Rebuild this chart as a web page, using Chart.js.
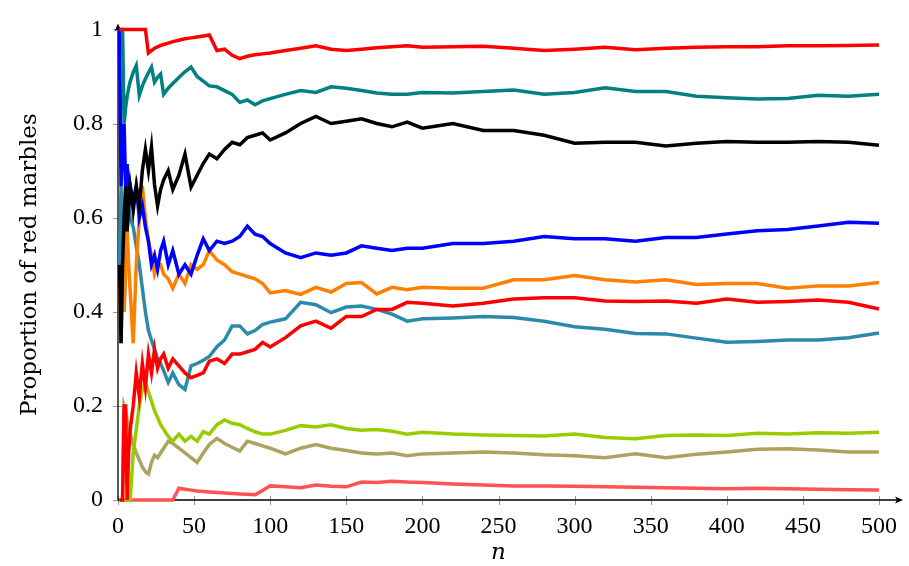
<!DOCTYPE html>
<html>
<head>
<meta charset="utf-8">
<script src="https://cdn.jsdelivr.net/npm/chart.js@4"></script>
<style>
  html, body { margin: 0; padding: 0; background: #fff; }
  #wrap { width: 909px; height: 566px; position: relative; }
</style>
</head>
<body>
<div id="wrap"><canvas id="marbles"></canvas></div>
<script>
// draw number n (x axis)
const steps = [1, 2, 3, 4, 5, 6, 7, 8, 10, 12,
  14, 16, 18, 20, 22, 24, 26, 28, 30, 33,
  36, 40, 44, 48, 52, 56, 60, 65, 70, 75,
  80, 85, 90, 95, 100, 110, 120, 130, 140, 150,
  160, 170, 180, 190, 200, 220, 240, 260, 280, 300,
  320, 340, 360, 380, 400, 420, 440, 460, 480, 500];

// proportion of red marbles, one array per run
const redTop = [1, 1, 1, 1, 1, 1, 1, 1, 1, 1,
  1, 1, 1, 0.95, 0.955, 0.96, 0.963, 0.966, 0.968, 0.971,
  0.974, 0.977, 0.98, 0.982, 0.984, 0.986, 0.988, 0.955, 0.958, 0.945,
  0.938, 0.943, 0.946, 0.948, 0.95, 0.955, 0.96, 0.965, 0.958, 0.955,
  0.958, 0.961, 0.963, 0.965, 0.962, 0.963, 0.964, 0.96, 0.955, 0.958,
  0.962, 0.957, 0.96, 0.962, 0.963, 0.963, 0.965, 0.965, 0.966, 0.967];

const teal = [1, 1, 1, 0.8, 0.833, 0.857, 0.875, 0.889, 0.909, 0.923,
  0.86, 0.88, 0.895, 0.908, 0.92, 0.888, 0.898, 0.905, 0.862, 0.875,
  0.885, 0.898, 0.91, 0.92, 0.9, 0.89, 0.88, 0.878, 0.87, 0.862,
  0.845, 0.85, 0.84, 0.848, 0.853, 0.862, 0.87, 0.866, 0.878, 0.875,
  0.87, 0.865, 0.862, 0.862, 0.866, 0.865, 0.868, 0.871, 0.862, 0.866,
  0.876, 0.868, 0.868, 0.858, 0.855, 0.852, 0.853, 0.86, 0.858, 0.862];

const black = [0.5, 0.333, 0.5, 0.6, 0.667, 0.571, 0.625, 0.667, 0.615, 0.667,
  0.625, 0.7, 0.745, 0.7, 0.75, 0.67, 0.625, 0.66, 0.68, 0.7,
  0.66, 0.69, 0.735, 0.665, 0.69, 0.715, 0.735, 0.725, 0.745, 0.76,
  0.755, 0.77, 0.775, 0.78, 0.765, 0.78, 0.8, 0.815, 0.8, 0.805,
  0.81, 0.8, 0.793, 0.803, 0.79, 0.8, 0.785, 0.785, 0.775, 0.758,
  0.76, 0.76, 0.752, 0.758, 0.762, 0.76, 0.76, 0.762, 0.76, 0.754];

const blue = [1, 0.667, 0.75, 0.8, 0.667, 0.714, 0.625, 0.667, 0.636, 0.667,
  0.6, 0.625, 0.58, 0.55, 0.5, 0.52, 0.49, 0.53, 0.55, 0.5,
  0.53, 0.48, 0.5, 0.48, 0.52, 0.555, 0.53, 0.55, 0.545, 0.55,
  0.56, 0.582, 0.565, 0.56, 0.545, 0.525, 0.515, 0.525, 0.52, 0.525,
  0.54, 0.535, 0.53, 0.535, 0.535, 0.545, 0.545, 0.55, 0.56, 0.555,
  0.555, 0.55, 0.558, 0.558, 0.565, 0.572, 0.575, 0.582, 0.59, 0.588];

const orange = [0.5, 0.333, 0.5, 0.4, 0.5, 0.571, 0.5, 0.444, 0.333, 0.5,
  0.6, 0.667, 0.6, 0.55, 0.52, 0.48, 0.5, 0.5, 0.48, 0.47,
  0.45, 0.48, 0.46, 0.5, 0.49, 0.5, 0.53, 0.51, 0.5, 0.485,
  0.48, 0.475, 0.47, 0.46, 0.44, 0.445, 0.437, 0.452, 0.442, 0.46,
  0.462, 0.438, 0.452, 0.447, 0.452, 0.45, 0.45, 0.468, 0.468, 0.477,
  0.468, 0.463, 0.468, 0.458, 0.46, 0.46, 0.45, 0.455, 0.455, 0.462];

const steel = [0.5, 0.667, 0.5, 0.4, 0.5, 0.571, 0.625, 0.6, 0.58, 0.54,
  0.5, 0.45, 0.4, 0.36, 0.34, 0.32, 0.3, 0.29, 0.275, 0.25,
  0.27, 0.245, 0.235, 0.285, 0.29, 0.297, 0.305, 0.326, 0.34, 0.37,
  0.37, 0.353, 0.36, 0.373, 0.378, 0.385, 0.42, 0.415, 0.398, 0.41,
  0.412, 0.405, 0.395, 0.38, 0.385, 0.387, 0.39, 0.388, 0.38, 0.368,
  0.363, 0.354, 0.353, 0.344, 0.335, 0.337, 0.34, 0.34, 0.345, 0.355];

const redLow = [0, 0, 0, 0.2, 0.2, 0, 0.1, 0.15, 0.2, 0.27,
  0.22, 0.29, 0.24, 0.31, 0.27, 0.32, 0.28, 0.3, 0.31, 0.28,
  0.3, 0.285, 0.27, 0.26, 0.265, 0.27, 0.295, 0.3, 0.29, 0.31,
  0.31, 0.315, 0.32, 0.335, 0.325, 0.345, 0.37, 0.38, 0.365, 0.39,
  0.39, 0.405, 0.405, 0.42, 0.418, 0.412, 0.418, 0.427, 0.43, 0.43,
  0.423, 0.422, 0.423, 0.418, 0.427, 0.42, 0.422, 0.425, 0.42, 0.406];

const green = [0, 0, 0, 0, 0, 0, 0, 0, 0.1, 0.15,
  0.2, 0.235, 0.25, 0.23, 0.21, 0.19, 0.175, 0.16, 0.15, 0.135,
  0.125, 0.14, 0.125, 0.135, 0.125, 0.145, 0.14, 0.16, 0.17, 0.163,
  0.16, 0.152, 0.145, 0.14, 0.14, 0.148, 0.158, 0.155, 0.16, 0.152,
  0.148, 0.15, 0.146, 0.14, 0.144, 0.14, 0.138, 0.137, 0.136, 0.14,
  0.133, 0.13, 0.137, 0.138, 0.137, 0.142, 0.14, 0.143, 0.142, 0.144];

const olive = [0, 0, 0, 0.2, 0.19, 0.17, 0.155, 0.143, 0.118, 0.1,
  0.085, 0.07, 0.06, 0.055, 0.08, 0.095, 0.09, 0.1, 0.11, 0.125,
  0.12, 0.11, 0.1, 0.09, 0.08, 0.1, 0.118, 0.131, 0.12, 0.112,
  0.104, 0.125, 0.12, 0.115, 0.11, 0.098, 0.11, 0.118, 0.11, 0.105,
  0.1, 0.098, 0.1, 0.094, 0.098, 0.1, 0.102, 0.1, 0.096, 0.094,
  0.09, 0.098, 0.09, 0.097, 0.102, 0.108, 0.109, 0.106, 0.102, 0.102];

const lightRed = [0, 0, 0, 0, 0, 0, 0, 0, 0, 0,
  0, 0, 0, 0, 0, 0, 0, 0, 0, 0,
  0, 0.025, 0.023, 0.021, 0.019, 0.018, 0.017, 0.016, 0.015, 0.014,
  0.013, 0.012, 0.011, 0.02, 0.03, 0.028, 0.026, 0.032, 0.029, 0.028,
  0.038, 0.037, 0.04, 0.038, 0.037, 0.034, 0.032, 0.03, 0.03, 0.029,
  0.028, 0.027, 0.026, 0.025, 0.024, 0.025, 0.024, 0.023, 0.022, 0.021];

const xTicks = [0, 50, 100, 150, 200, 250, 300, 350, 400, 450, 500];
const yTicks = [0, 0.2, 0.4, 0.6, 0.8, 1];

// first in list ends up drawn on top
const runs = [
  [redTop, "#ff0000"],
  [teal, "#008080"],
  [black, "#000000"],
  [blue, "#0000ff"],
  [orange, "#ff8000"],
  [redLow, "#ff0000"],
  [steel, "#2b8aab"],
  [green, "#99cc00"],
  [olive, "#aca35e"],
  [lightRed, "#ff5252"],
];

const tickFont = "'Liberation Serif', serif";
const titleFont = "'DejaVu Serif', serif";

// pgfplots-like axis lines with arrows and small crossing ticks
const axisLines = {
  id: "axisLines",
  beforeDatasetsDraw(chart) {
    const { ctx, chartArea: a, scales } = chart;
    const x = scales.x, y = scales.y;
    ctx.save();
    ctx.strokeStyle = "#999";
    ctx.lineWidth = 1;
    ctx.beginPath();
    xTicks.forEach(v => {
      const px = Math.round(x.getPixelForValue(v)) + 0.5;
      ctx.moveTo(px, a.bottom - 4);
      ctx.lineTo(px, a.bottom + 5);
    });
    yTicks.forEach(v => {
      const py = Math.round(y.getPixelForValue(v)) + 0.5;
      ctx.moveTo(a.left - 5, py);
      ctx.lineTo(a.left + 4, py);
    });
    ctx.stroke();

    ctx.strokeStyle = "#000";
    ctx.fillStyle = "#000";
    ctx.lineWidth = 1.3;
    const x0 = a.left, y0 = a.bottom;
    const xEnd = a.right + 24, yEnd = a.top - 6;
    ctx.beginPath();
    ctx.moveTo(x0, y0);
    ctx.lineTo(xEnd - 4, y0);
    ctx.moveTo(x0, y0);
    ctx.lineTo(x0, yEnd + 4);
    ctx.stroke();
    // arrow heads
    ctx.beginPath();
    ctx.moveTo(xEnd, y0);
    ctx.lineTo(xEnd - 8, y0 - 3.5);
    ctx.lineTo(xEnd - 6, y0);
    ctx.lineTo(xEnd - 8, y0 + 3.5);
    ctx.closePath();
    ctx.fill();
    ctx.beginPath();
    ctx.moveTo(x0, yEnd);
    ctx.lineTo(x0 - 3.5, yEnd + 8);
    ctx.lineTo(x0, yEnd + 6);
    ctx.lineTo(x0 + 3.5, yEnd + 8);
    ctx.closePath();
    ctx.fill();
    ctx.restore();
  }
};

const ctx = document.getElementById("marbles").getContext("2d");

new Chart(ctx, {
  type: "line",
  data: {
    datasets: runs.map(([values, colour]) => ({
      data: values.map((v, i) => ({ x: steps[i], y: v })),
      borderColor: colour,
      borderWidth: 3.5,
      pointRadius: 0,
      tension: 0,
      fill: false,
      clip: false,
    })),
  },
  options: {
    responsive: true,
    maintainAspectRatio: false,
    animation: false,
    events: [],
    layout: { padding: { top: 17, right: 27, left: 0, bottom: 0 } },
    plugins: {
      legend: { display: false },
      tooltip: { enabled: false },
    },
    scales: {
      x: {
        type: "linear",
        min: 0,
        max: 500,
        afterFit: scale => { scale.height = 66; },
        afterBuildTicks: scale => { scale.ticks = xTicks.map(v => ({ value: v })); },
        grid: { display: false, drawTicks: false },
        border: { display: false },
        ticks: {
          color: "#000",
          padding: 12,
          maxRotation: 0,
          autoSkip: false,
          font: { family: tickFont, size: 24 },
        },
        title: {
          display: true,
          text: "n",
          color: "#000",
          padding: { top: 0, bottom: 1 },
          font: { family: titleFont, size: 23, style: "italic", lineHeight: 1 },
        },
      },
      y: {
        min: 0,
        max: 1,
        afterFit: scale => { scale.width = 118; },
        afterBuildTicks: scale => { scale.ticks = yTicks.map(v => ({ value: v })); },
        grid: { display: false, drawTicks: false },
        border: { display: false },
        ticks: {
          color: "#000",
          padding: 15,
          font: { family: tickFont, size: 24 },
          callback: v => String(Number(v.toFixed(2))),
        },
        title: {
          display: true,
          text: "Proportion of red marbles",
          color: "#000",
          padding: { top: 16, bottom: 0 },
          font: { family: titleFont, size: 23 },
        },
      },
    },
  },
  plugins: [axisLines],
});
</script>
</body>
</html>
